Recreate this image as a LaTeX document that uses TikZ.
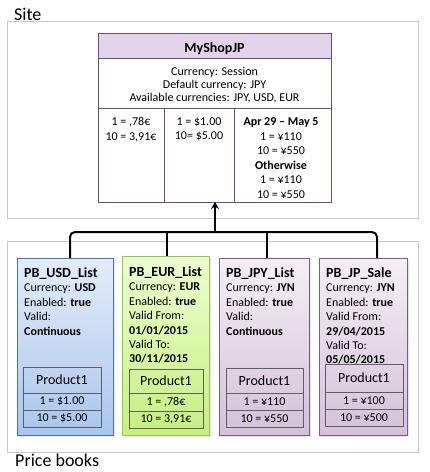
\documentclass[tikz,border=0pt]{standalone}
\usepackage{fontspec}
\setmainfont{Carlito}
\usetikzlibrary{arrows.meta,shadows}
\definecolor{grpborder}{HTML}{C9C9C9}
\definecolor{shopborder}{HTML}{6E4B7E}
\definecolor{shophead}{HTML}{E3D3E8}
\definecolor{usdtop}{HTML}{E3ECF9}
\definecolor{usdbot}{HTML}{A9C5EC}
\definecolor{usdline}{HTML}{3E7AAE}
\definecolor{eurtop}{HTML}{ECFFD0}
\definecolor{eurbot}{HTML}{C5EF7E}
\definecolor{eurline}{HTML}{92CC3C}
\definecolor{jpytop}{HTML}{F4EEF5}
\definecolor{jpybot}{HTML}{D3C1D8}
\definecolor{jpyline}{HTML}{7A5A89}
\definecolor{tblline}{HTML}{5F5F5F}
\begin{document}
\begin{tikzpicture}[x=1pt,y=-1pt,
  box/.style={rectangle,inner sep=0pt,outer sep=0pt,anchor=north west},
  grpbox/.style={box,draw=grpborder,line width=0.8pt,fill=white,
     drop shadow={shadow xshift=1pt,shadow yshift=-1pt,fill=black!8}},
  grplabel/.style={inner sep=0pt,anchor=base west,font=\fontsize{18}{20}\selectfont},
  shoppart/.style={box,draw=shopborder,line width=1pt},
  shoptext/.style={inner sep=0pt,align=center,font=\fontsize{12}{14.5}\selectfont},
  card/.style={box,line width=1pt,
     drop shadow={shadow xshift=1.5pt,shadow yshift=-1.5pt,fill=black!18}},
  cardtext/.style={inner sep=0pt,anchor=north west,align=left,font=\fontsize{12}{14.4}\selectfont},
  cell/.style={box,draw=tblline,line width=0.9pt},
  celltext/.style={inner sep=0pt,font=\fontsize{12}{14}\selectfont},
  bus/.style={line width=2pt,draw=black},
  ]
\useasboundingbox (0,0) rectangle (430,472);

% group boxes
\node[grpbox,minimum width=411,minimum height=197] (site) at (7,21) {};
\node[grplabel] (sitelbl) at (14,20) {Site};
\node[grpbox,minimum width=411,minimum height=211] (books) at (7,241) {};
\node[grplabel] (bookslbl) at (15,466) {Price books};

% MyShopJP
\node[shoppart,fill=shophead,minimum width=233,minimum height=25] (shophd) at (98,33) {};
\node[shoppart,minimum width=233,minimum height=50] (shopinfo) at (98,58) {};
\node[shoppart,minimum width=66,minimum height=94] (col1) at (98,108) {};
\node[shoppart,minimum width=70,minimum height=94] (col2) at (164,108) {};
\node[shoppart,minimum width=97,minimum height=94] (col3) at (234,108) {};
\node[inner sep=0pt,anchor=base,font=\fontsize{14}{16}\selectfont\bfseries] (shopname) at (214.5,52) {MyShopJP};
\node[shoptext,anchor=north,font=\fontsize{12}{12.6}\selectfont] (infotext) at (214.5,67.5) {Currency: Session\\Default currency: JPY\\Available currencies: JPY, USD, EUR};
\node[shoptext,anchor=north] (c1text) at (131,117.5) {1 = ,78€\\10 = 3,91€};
\node[shoptext,anchor=north] (c2text) at (199,117.5) {1 = \$1.00\\10= \$5.00};
\node[shoptext,anchor=north] (c3text) at (281,117.5) {\textbf{Apr 29 – May 5}\\1 = ¥110\\10 = ¥550\\\textbf{Otherwise}\\1 = ¥110\\10 = ¥550};
\node[box,minimum width=233,minimum height=169] (shop) at (98,33) {};

% cards
\node[card,draw=usdline,top color=usdtop,bottom color=usdbot,minimum width=96,minimum height=177] (usd) at (17,258) {};
\node[card,draw=eurline,top color=eurtop,bottom color=eurbot,minimum width=87,minimum height=179] (eur) at (122,256) {};
\node[card,draw=jpyline,top color=jpytop,bottom color=jpybot,minimum width=90,minimum height=177] (jpy) at (219,258) {};
\node[card,draw=jpyline,top color=jpytop,bottom color=jpybot,minimum width=88,minimum height=177] (sale) at (319,258) {};

\node[cardtext] (usdtext) at (24,267.5) {{\fontsize{14}{14.4}\selectfont\bfseries PB\_USD\_List}\\Currency: \textbf{USD}\\Enabled: \textbf{true}\\Valid:\\\textbf{Continuous}};
\node[cardtext] (eurtext) at (129,266.5) {{\fontsize{14}{14.4}\selectfont\bfseries PB\_EUR\_List}\\Currency: \textbf{EUR}\\Enabled: \textbf{true}\\Valid From:\\\textbf{01/01/2015}\\Valid To:\\\textbf{30/11/2015}};
\node[cardtext] (jpytext) at (226,267.5) {{\fontsize{14}{14.4}\selectfont\bfseries PB\_JPY\_List}\\Currency: \textbf{JYN}\\Enabled: \textbf{true}\\Valid:\\\textbf{Continuous}};
\node[cardtext] (saletext) at (326,267.5) {{\fontsize{14}{14.4}\selectfont\bfseries PB\_JP\_Sale}\\Currency: \textbf{JYN}\\Enabled: \textbf{true}\\Valid From:\\\textbf{29/04/2015}\\Valid To:\\\textbf{05/05/2015}};

% product tables
\node[cell,minimum width=78,minimum height=26] (usdh) at (23,367) {};
\node[cell,minimum width=78,minimum height=17] (usdr1) at (23,393) {};
\node[cell,minimum width=78,minimum height=17] (usdr2) at (23,410) {};
\node[celltext,font=\fontsize{14}{14}\selectfont] at (usdh.center) {Product1};
\node[celltext] at (usdr1.center) {1 = \$1.00};
\node[celltext] at (usdr2.center) {10 = \$5.00};

\node[cell,minimum width=74,minimum height=24] (eurh) at (129,369) {};
\node[cell,minimum width=74,minimum height=18] (eurr1) at (129,393) {};
\node[cell,minimum width=74,minimum height=17] (eurr2) at (129,411) {};
\node[celltext,font=\fontsize{14}{14}\selectfont] at (eurh.center) {Product1};
\node[celltext] at (eurr1.center) {1 = ,78€};
\node[celltext] at (eurr2.center) {10 = 3,91€};

\node[cell,minimum width=77,minimum height=25] (jpyh) at (226,368) {};
\node[cell,minimum width=77,minimum height=17] (jpyr1) at (226,393) {};
\node[cell,minimum width=77,minimum height=17] (jpyr2) at (226,410) {};
\node[celltext,font=\fontsize{14}{14}\selectfont] at (jpyh.center) {Product1};
\node[celltext] at (jpyr1.center) {1 = ¥110};
\node[celltext] at (jpyr2.center) {10 = ¥550};

\node[cell,minimum width=78,minimum height=28] (saleh) at (325,364) {};
\node[cell,minimum width=78,minimum height=17] (saler1) at (325,392) {};
\node[cell,minimum width=78,minimum height=17] (saler2) at (325,409) {};
\node[celltext,font=\fontsize{14}{14}\selectfont] at (saleh.center) {Product1};
\node[celltext] at (saler1.center) {1 = ¥100};
\node[celltext] at (saler2.center) {10 = ¥500};

% connectors
\coordinate (bU) at (70,232);
\coordinate (bE) at (167,232);
\coordinate (bJ) at (267,232);
\coordinate (bS) at (377,232);
\coordinate (bA) at (215,232);
\draw[bus,rounded corners=5pt] (bU |- usd.north) -- (bU) -- (bS) -- (bS |- sale.north);
\draw[bus] (bE) -- (bE |- eur.north);
\draw[bus] (bJ) -- (bJ |- jpy.north);
\draw[bus,-{Stealth[length=7pt,width=8pt]}] (bA) -- (bA |- shop.south);
\end{tikzpicture}
\end{document}
